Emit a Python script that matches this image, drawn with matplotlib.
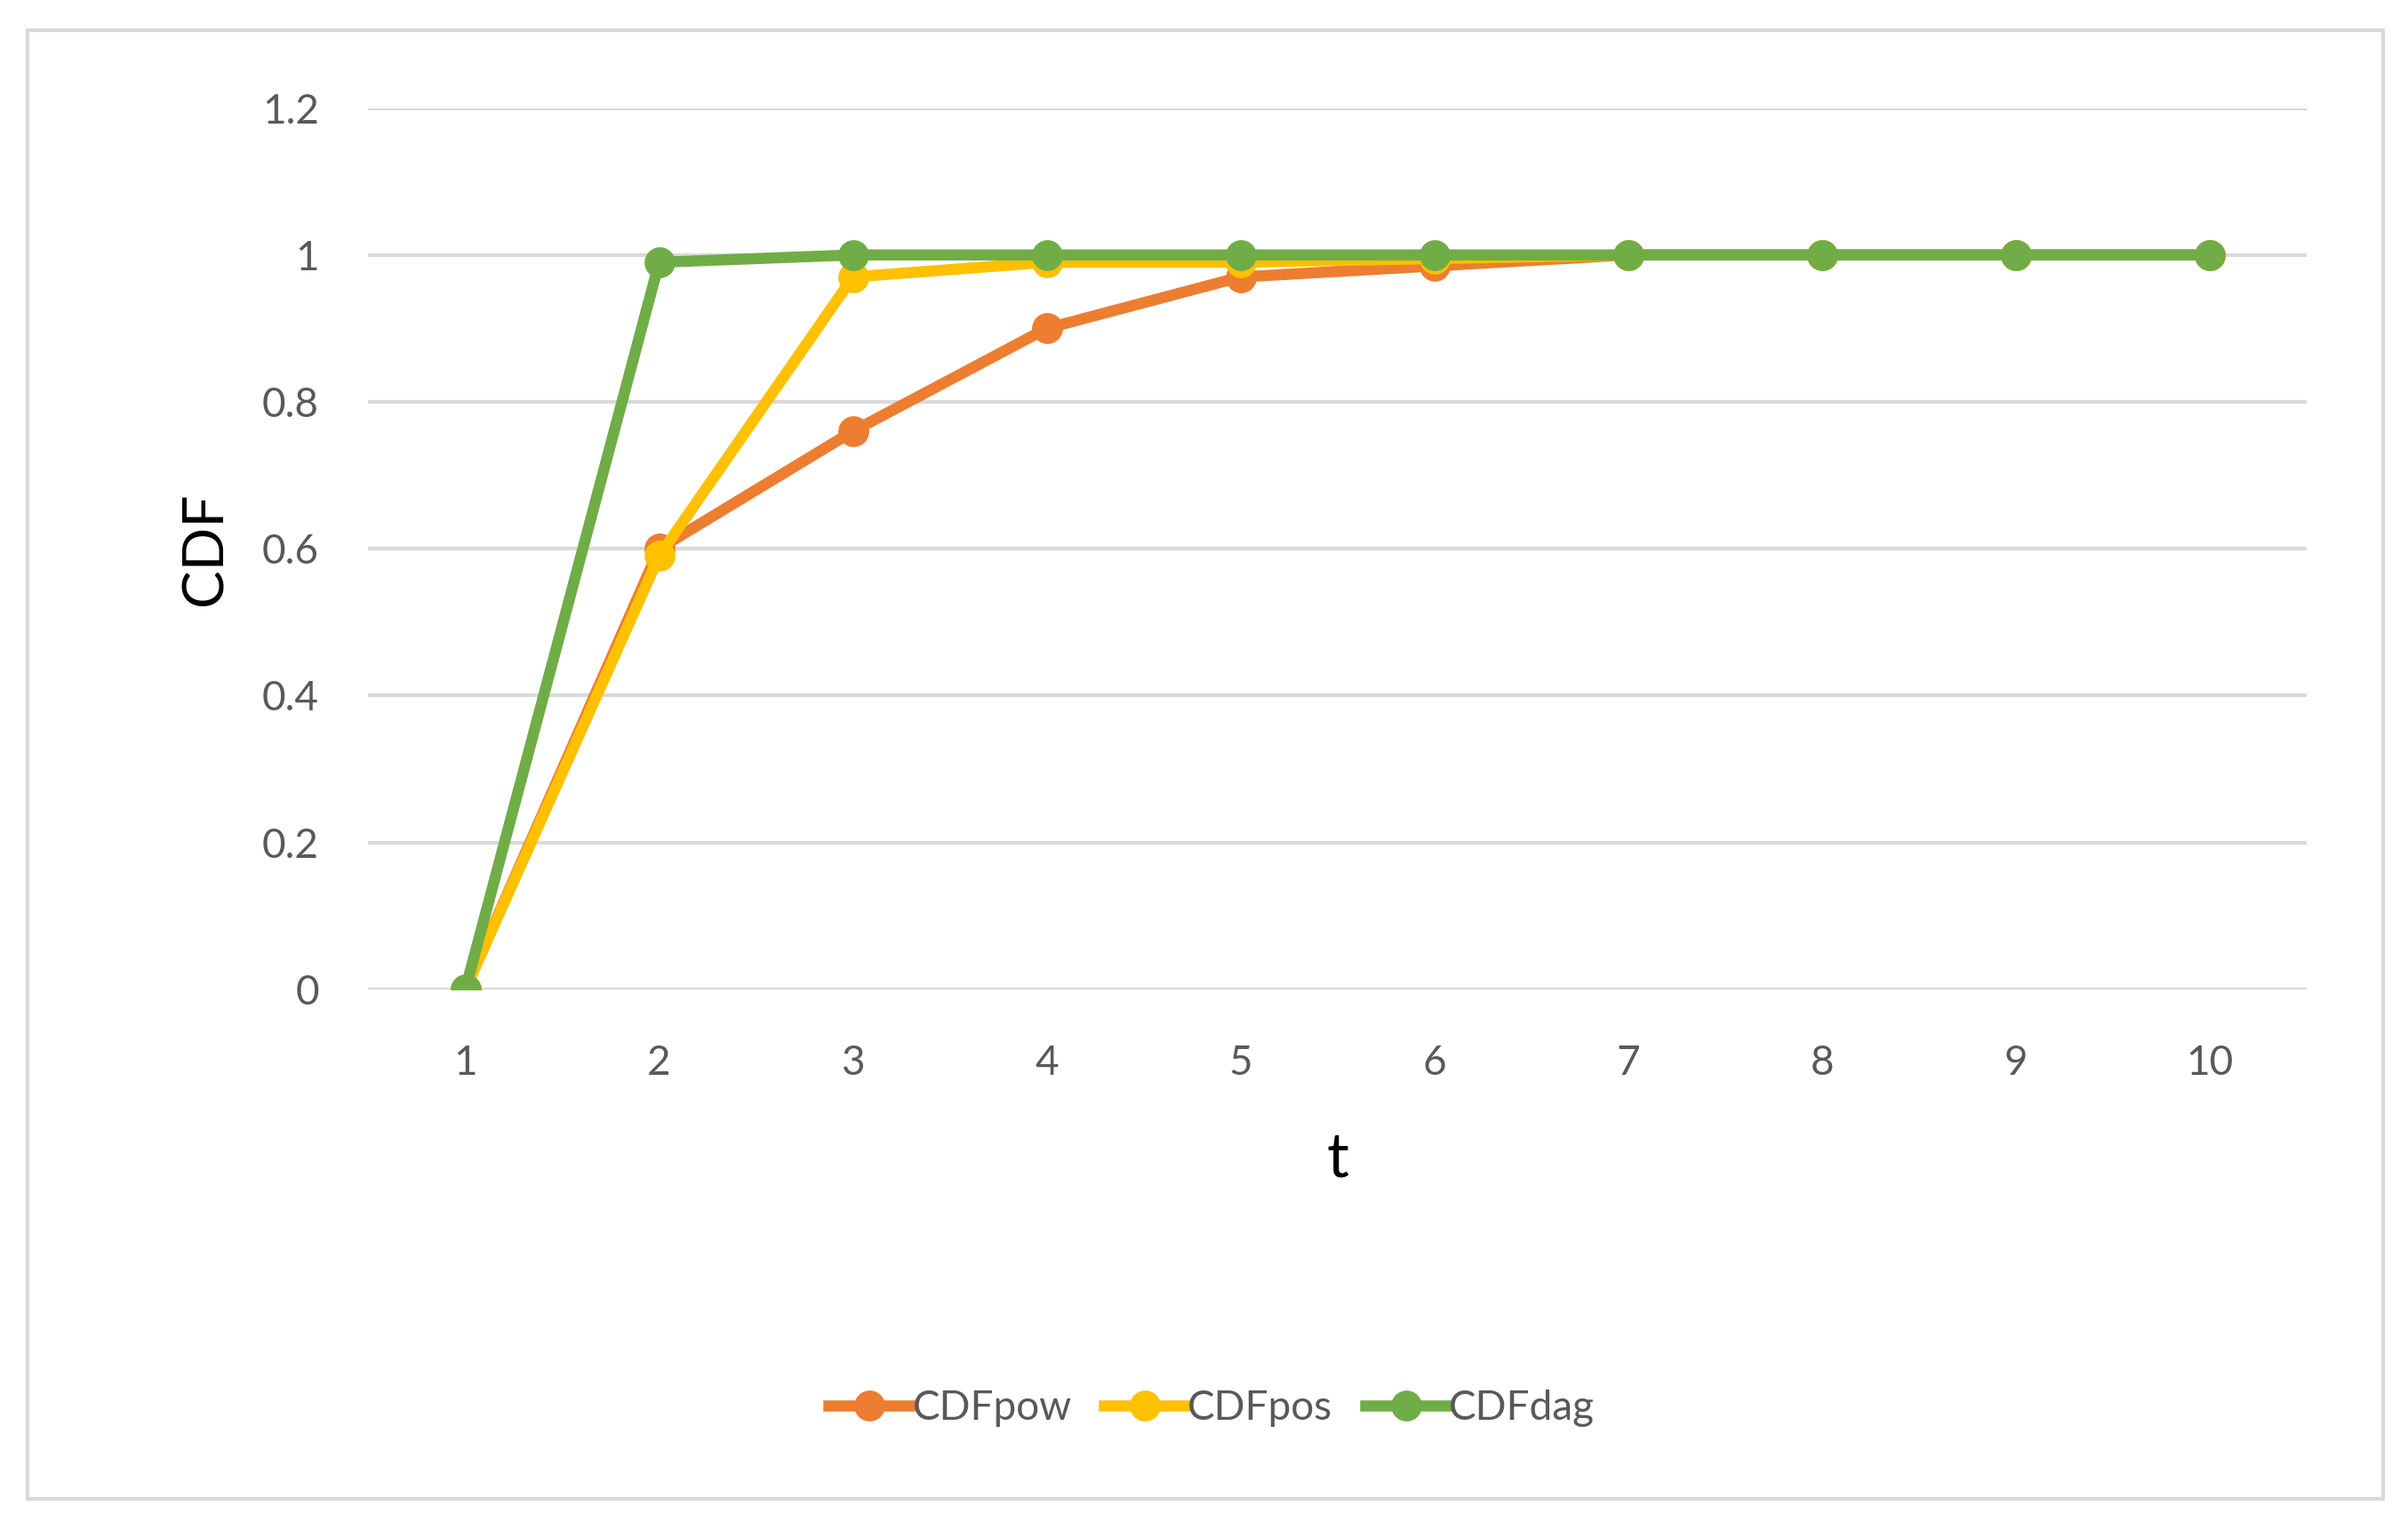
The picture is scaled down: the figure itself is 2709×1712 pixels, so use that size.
import matplotlib.pyplot as plt
from matplotlib.patches import Rectangle

t = [1, 2, 3, 4, 5, 6, 7, 8, 9, 10]
cdf_pow = [0, 0.60, 0.76, 0.90, 0.97, 0.985, 1, 1, 1, 1]
cdf_pos = [0, 0.59, 0.97, 0.99, 0.99, 0.995, 1, 1, 1, 1]
cdf_dag = [0, 0.99, 1, 1, 1, 1, 1, 1, 1, 1]

plt.rcParams['font.family'] = ['Lato', 'DejaVu Sans']

fig = plt.figure(figsize=(27.09, 17.12), dpi=100)
fig.patches.append(Rectangle((0.0115, 0.015), 0.978, 0.965, transform=fig.transFigure,
                             fill=False, edgecolor='#D9D9D9', linewidth=3))
ax = fig.add_axes([0.153, 0.350, 0.805, 0.579])

ax.plot(t, cdf_pow, color='#ED7D31', lw=9, marker='o', ms=24, label='CDFpow')
ax.plot(t, cdf_pos, color='#FFC000', lw=9, marker='o', ms=24, label='CDFpos')
ax.plot(t, cdf_dag, color='#70AD47', lw=9, marker='o', ms=24, label='CDFdag')

ax.set_xlim(0.5, 10.5)
ax.set_ylim(0, 1.2)
ax.set_xticks(t)
ax.set_yticks([0, 0.2, 0.4, 0.6, 0.8, 1, 1.2])
ax.set_yticklabels(['0', '0.2', '0.4', '0.6', '0.8', '1', '1.2'])
ax.grid(axis='y', color='#D9D9D9', linewidth=3)
ax.set_axisbelow(True)
for s in ax.spines.values():
    s.set_visible(False)
ax.tick_params(length=0, labelsize=33, labelcolor='#595959', pad=45)
ax.tick_params(axis='y', pad=40)
ax.set_ylabel('CDF', fontsize=46, labelpad=25)
ax.set_xlabel('t', fontsize=50, labelpad=40)

ax.legend(loc='center', bbox_to_anchor=(0.435, -0.475), ncol=3, frameon=False,
          fontsize=33, labelcolor='#595959', handlelength=2.0, columnspacing=0.8,
          handletextpad=0.05)

fig.savefig('out.png', dpi=100)
